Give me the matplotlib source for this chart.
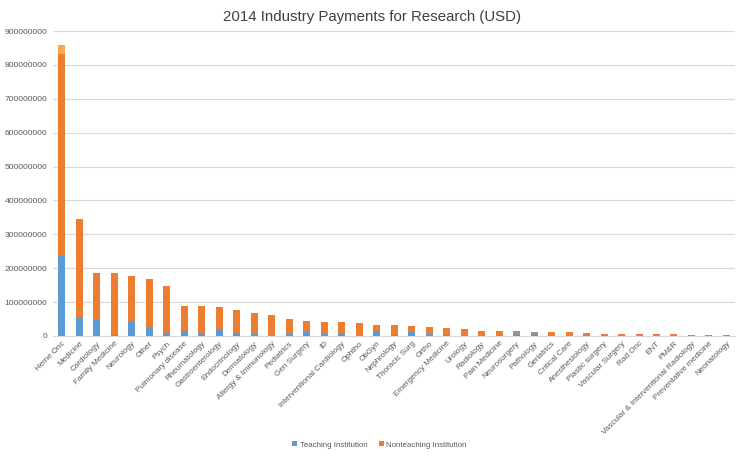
import matplotlib.pyplot as plt
from matplotlib.ticker import StrMethodFormatter
import numpy as np

plt.rcParams['font.family'] = ['Liberation Sans', 'DejaVu Sans']

# Especialidades
specialties = ["Heme Onc", "Medicine", "Cardiology", "Family Medicine", "Neurology",
               "Other", "Psych", "Pulmonary disease", "Rheumatology", "Gastroenterology",
               "Endocrinology", "Dermatology", "Allergy & Immunology", "Pediatrics",
               "Gen Surgery", "ID", "Interventional Cardiology", "Ophtho", "ObGyn",
               "Nephrology", "Thoracic Surg", "Ortho", "Emergency Medicine", "Urology",
               "Radiology", "Pain Medicine", "Neurosurgery", "Pathology", "Geriatrics",
               "Critical Care", "Anesthesiology", "Plastic surgery", "Vascular Surgery",
               "Rad Onc", "ENT", "PM&R", "Vascular & Interventional Radiology",
               "Preventative medicine", "Neonatology"]

# Totales (millones USD)
total_m = [832, 345, 185, 185, 178, 167, 146, 88, 88, 86, 76, 68, 61, 49, 43, 41, 40,
           39, 33, 31, 30, 27, 23, 21, 15, 13, 13, 12, 12, 12, 9, 7, 6, 5, 5, 5, 4, 3, 2]
teaching_m = [235, 53, 47, 4, 40, 27, 10, 13, 9, 16, 10, 7, 1, 7, 11, 5, 8, 0.5, 13,
              4, 12, 5, 2, 1, 1, 1, 5, 5, 1, 1, 1, 0.5, 0.5, 0.5, 0.3, 0.3, 0.2, 0.1, 0.1]
# Segmento claro arriba de Heme Onc
extra_m = [28] + [0] * 38

teaching = np.array(teaching_m) * 1e6
nonteaching = (np.array(total_m) - np.array(teaching_m)) * 1e6
extra = np.array(extra_m) * 1e6

fig = plt.figure(figsize=(7.44, 4.57), dpi=100)
ax = fig.add_axes([0.0712, 0.265, 0.917, 0.667])

x = np.arange(len(specialties))
w = 0.4
ax.bar(x, teaching, w, color='#5B9BD5', label='Teaching Institution', zorder=3)
ax.bar(x, nonteaching, w, bottom=teaching, color='#ED7D31',
       label='Nonteaching Institution', zorder=3)
ax.bar(x, extra, w, bottom=teaching + nonteaching, color='#F8A94E', zorder=3)

ax.set_xlim(-0.5, len(specialties) - 0.5)
ax.set_ylim(0, 900000000)
ax.set_yticks(np.arange(0, 900000001, 100000000))
ax.yaxis.set_major_formatter(StrMethodFormatter('{x:.0f}'))
ax.grid(axis='y', color='#D9D9D9', linewidth=0.8, zorder=0)

ax.set_xticks(x)
ax.set_xticklabels(specialties, rotation=45, ha='right', rotation_mode='anchor',
                   fontsize=5.9, color='#595959')
ax.tick_params(axis='y', labelsize=6.1, labelcolor='#595959', length=0, pad=4)
ax.tick_params(axis='x', length=0, pad=3)

for s in ['top', 'right', 'left']:
    ax.spines[s].set_visible(False)
ax.spines['bottom'].set_color('#D9D9D9')

fig.suptitle('2014 Industry Payments for Research (USD)', y=0.978, fontsize=10.8,
             color='#404040')

fig.legend(handles=ax.containers[:2], labels=['Teaching Institution', 'Nonteaching Institution'],
           loc='center', bbox_to_anchor=(0.51, 0.026), ncol=2, frameon=False,
           fontsize=5.7, handlelength=0.6, handleheight=0.6, handletextpad=0.3,
           columnspacing=1.5, labelcolor='#595959')

fig.savefig('out.png', dpi=100)
